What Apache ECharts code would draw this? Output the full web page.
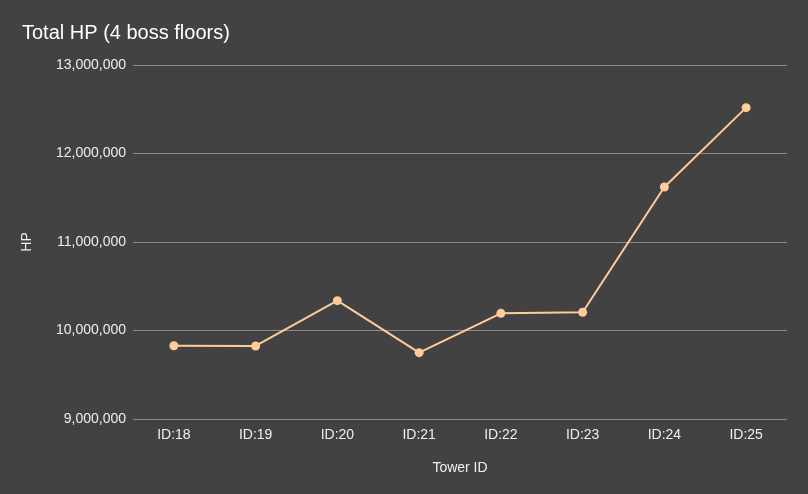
<!DOCTYPE html>
<html>
<head>
<meta charset="utf-8">
<script src="https://cdn.jsdelivr.net/npm/echarts@6/dist/echarts.min.js"></script>
<style>
    html, body { margin: 0; padding: 0; background: #424242; }
    #chart { width: 808px; height: 494px; }
</style>
</head>
<body>
<div id="chart"></div>
<script>
var towerIds = ['ID:18', 'ID:19', 'ID:20', 'ID:21', 'ID:22', 'ID:23', 'ID:24', 'ID:25'];
var totalHp = [9828000, 9825000, 10337000, 9750000, 10194000, 10206000, 11621000, 12518000];

var myChart = echarts.init(document.getElementById('chart'));
var option = {
    backgroundColor: '#424242',
    textStyle: {
        fontFamily: 'Liberation Sans, Arial, sans-serif'
    },
    title: {
        text: 'Total HP (4 boss floors)',
        left: 17,
        top: 18,
        textStyle: {
            color: '#ffffff',
            fontSize: 20,
            fontWeight: 'normal'
        }
    },
    grid: {
        left: 133,
        right: 21,
        top: 65,
        bottom: 75
    },
    xAxis: {
        type: 'category',
        data: towerIds,
        name: 'Tower ID',
        nameLocation: 'middle',
        nameGap: 42,
        nameTextStyle: { color: '#eeeeee', fontSize: 14 },
        axisLine: { show: false },
        axisTick: { show: false },
        axisLabel: { color: '#eeeeee', fontSize: 14, margin: 9 }
    },
    yAxis: {
        type: 'value',
        min: 9000000,
        max: 13000000,
        interval: 1000000,
        name: 'HP',
        nameLocation: 'middle',
        nameGap: 99,
        nameTextStyle: { color: '#eeeeee', fontSize: 14 },
        axisLine: { show: false },
        axisTick: { show: false },
        axisLabel: {
            color: '#eeeeee',
            fontSize: 14,
            margin: 7,
            formatter: function (v) { return v.toLocaleString('en-US'); }
        },
        splitLine: { lineStyle: { color: '#8a8a8a', width: 1 } }
    },
    series: [
        {
            type: 'line',
            data: totalHp,
            symbol: 'circle',
            symbolSize: 9,
            itemStyle: { color: '#ffcc99' },
            lineStyle: { color: '#ffcc99', width: 2 }
        }
    ]
};
option && myChart.setOption(option);
</script>
</body>
</html>
